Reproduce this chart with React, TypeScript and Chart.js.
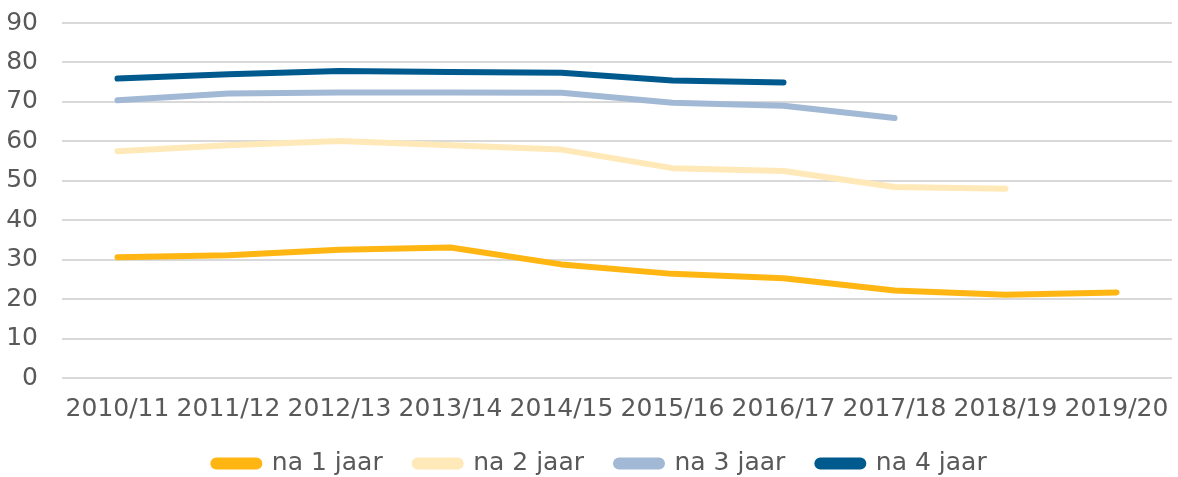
import React, { useEffect, useRef } from "react";
import { Chart, registerables } from "chart.js";

Chart.register(...registerables);

const categories = ["2010/11", "2011/12", "2012/13", "2013/14", "2014/15", "2015/16", "2016/17", "2017/18", "2018/19", "2019/20"];
const na1jaar = [30.6, 31.1, 32.5, 33.1, 28.8, 26.4, 25.3, 22.2, 21.1, 21.7];
const na2jaar = [57.5, 59.0, 60.1, 59.0, 57.9, 53.2, 52.5, 48.4, 48.0, null];
const na3jaar = [70.4, 72.1, 72.4, 72.4, 72.3, 69.8, 69.0, 65.9, null, null];
const na4jaar = [75.9, 77.0, 77.8, 77.6, 77.4, 75.4, 74.9, null, null, null];
const seriesLabels = ["na 1 jaar", "na 2 jaar", "na 3 jaar", "na 4 jaar"];
const seriesColors = ["#FFB612", "#FFE9B8", "#A2B9D5", "#005A8E"];

const FONT = "'DejaVu Sans', Verdana, sans-serif";

const legendShift = {
  id: "legendShift",
  afterLayout(chart: any) {
    const l = chart.legend;
    if (l) {
      l.left = 28;
      l.right = chart.chartArea.right;
    }
  },
};

export default function App() {
  const ref = useRef<HTMLCanvasElement | null>(null);
  useEffect(() => {
    if (!ref.current) return;
    const values = [na1jaar, na2jaar, na3jaar, na4jaar];
    const chart = new Chart(ref.current, {
      type: "line",
      data: {
        labels: categories,
        datasets: values.map((v, i) => ({
          label: seriesLabels[i],
          data: v,
          borderColor: seriesColors[i],
          backgroundColor: seriesColors[i],
          borderWidth: 6,
          borderCapStyle: "round",
          borderJoinStyle: "round",
          pointRadius: 0,
          pointHoverRadius: 0,
          tension: 0,
          spanGaps: false,
        })),
      },
      plugins: [legendShift],
      options: {
        animation: false,
        responsive: false,
        maintainAspectRatio: false,
        layout: { padding: { top: 23, left: 0, right: 6, bottom: -9 } },
        plugins: {
          tooltip: { enabled: false },
          legend: {
            position: "bottom",
            labels: {
              font: { family: FONT, size: 25 },
              color: "#595959",
              boxWidth: 46,
              boxHeight: 6,
              padding: 32,
              useBorderRadius: true,
              borderRadius: 3,
            },
          },
        },
        scales: {
          x: {
            offset: true,
            grid: { display: false, drawTicks: false },
            border: { display: false },
            ticks: {
              font: { family: FONT, size: 25 },
              color: "#595959",
              maxRotation: 0,
              autoSkip: false,
              padding: 16,
            },
            afterFit: (s: any) => {
              s.paddingLeft = 0;
              s.paddingRight = 0;
              s.height = 41;
            },
          },
          y: {
            min: 0,
            max: 90,
            grid: { color: "#D9D9D9", lineWidth: 2, drawTicks: false },
            border: { display: false },
            ticks: {
              stepSize: 10,
              font: { family: FONT, size: 25 },
              color: "#595959",
              padding: 24,
            },
            afterFit: (s: any) => {
              s.width = 62;
              s.paddingTop = 0;
              s.paddingBottom = 0;
            },
          },
        },
      },
    });
    return () => chart.destroy();
  }, []);
  return (
    <div style={{ position: "fixed", left: 0, top: 0, width: 1178, height: 477, background: "#fff" }}>
      <canvas ref={ref} width={1178} height={477} style={{ width: 1178, height: 477 }} />
    </div>
  );
}
